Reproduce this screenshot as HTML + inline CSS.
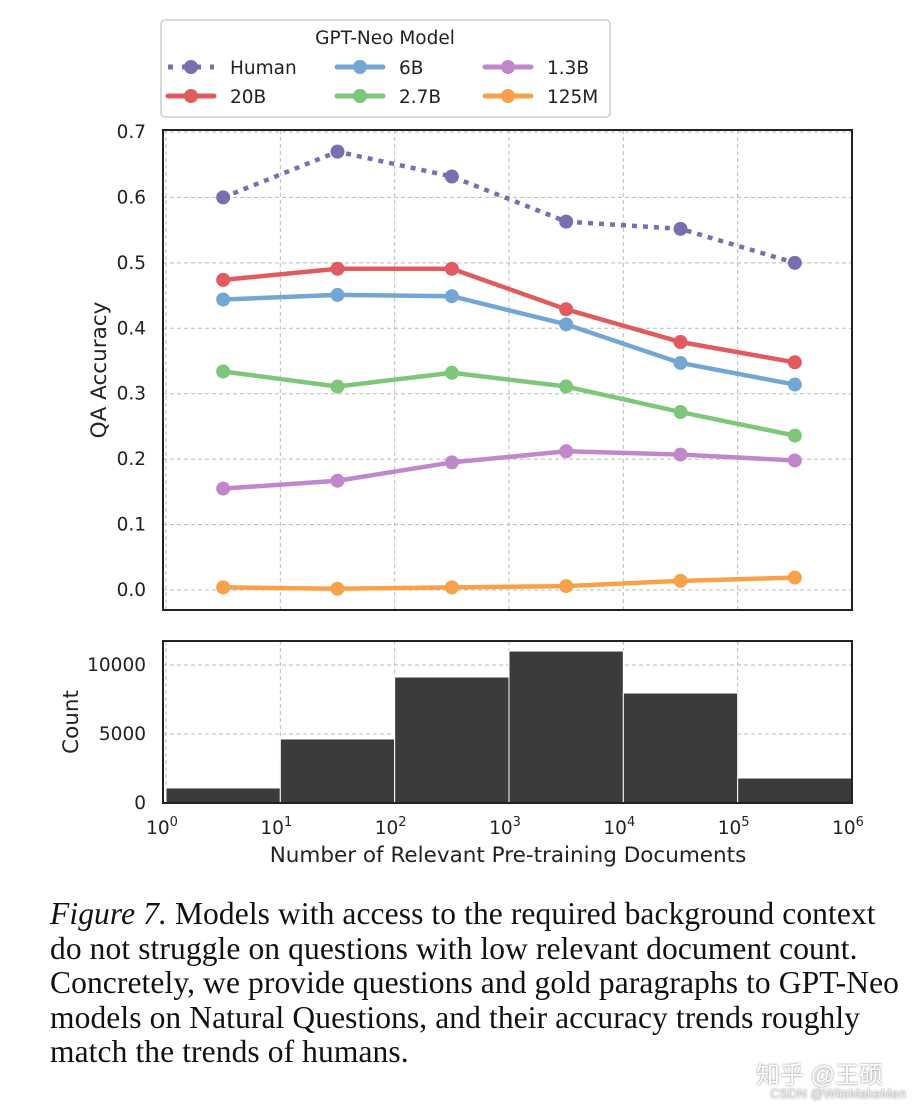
<!DOCTYPE html>
<html><head><meta charset="utf-8"><style>
body{margin:0;background:#fff;width:924px;height:1108px;overflow:hidden;position:relative}
svg{position:absolute;left:0;top:0}
.cap{position:absolute;left:50px;top:897px;width:870px;font-family:"Liberation Serif",serif;font-size:31.5px;line-height:34.5px;color:#111;white-space:nowrap;letter-spacing:0.1px}
.wm{position:absolute;font-family:"Liberation Sans","Noto Sans CJK SC",sans-serif;color:#fff;text-shadow:0 0 2px #777}
</style></head><body>
<svg id="chart" width="924" height="890" font-family="DejaVu Sans, sans-serif"></svg>
<div class="cap"><i>Figure 7.</i> Models with access to the required background context<br>do not struggle on questions with low relevant document count.<br>Concretely, we provide questions and gold paragraphs to GPT-Neo<br>models on Natural Questions, and their accuracy trends roughly<br>match the trends of humans.</div>
<div class="wm" style="left:756px;top:1055px;font-size:24px">知乎 @王硕</div>
<div class="wm" style="left:770px;top:1086px;font-size:13px;color:#eee">CSDN @WitsMakeMen</div>
<script>
const seriesNames=["Human","20B","6B","2.7B","1.3B","125M"];
const seriesColors=["#7b6eb0","#e05a5e","#72a7d4","#7ec77a","#c087cc","#f7a24a"];
const xLogPos=[0.5,1.5,2.5,3.5,4.5,5.5];
const human=[0.600,0.670,0.632,0.563,0.552,0.500];
const s20B=[0.474,0.491,0.491,0.429,0.379,0.348];
const s6B=[0.444,0.451,0.449,0.406,0.347,0.314];
const s27B=[0.334,0.311,0.332,0.311,0.272,0.236];
const s13B=[0.155,0.167,0.195,0.212,0.207,0.198];
const s125M=[0.004,0.002,0.004,0.006,0.014,0.019];
const binEdges=[0,1,2,3,4,5,6];
const counts=[1090,4640,9130,11010,7970,1810];
const yTicks=[0,0.1,0.2,0.3,0.4,0.5,0.6,0.7];
const cTicks=[0,5000,10000];
const xTicks=[0,1,2,3,4,5,6];
const NS="http://www.w3.org/2000/svg";
const svg=document.getElementById('chart');
function mk(t,a,p){const e=document.createElementNS(NS,t);for(const k in a)e.setAttribute(k,a[k]);(p||svg).appendChild(e);return e;}
const L=163,R=852;
const X=v=>166+v*(852-166)/6;
const Y=v=>590-v*(590-132)/0.7;
const C=v=>803-v*(803-665)/10000;
for(const t of xTicks){const g=mk('line',{x1:X(t),x2:X(t),y1:130,y2:610,stroke:'#bbb','stroke-dasharray':'4,3'});}
for(const t of yTicks){const g=mk('line',{x1:L,x2:R,y1:Y(t),y2:Y(t),stroke:'#bbb','stroke-dasharray':'4,3'});
const tx=mk('text',{x:146,y:Y(t)+6,'text-anchor':'end','font-size':18.5,fill:'#222'});tx.textContent=t.toFixed(1);}
const all=[human,s20B,s6B,s27B,s13B,s125M];
all.forEach((s,i)=>{const pts=s.map((v,j)=>X(xLogPos[j])+','+Y(v)).join(' ');
const pl=mk('polyline',{points:pts,fill:'none',stroke:seriesColors[i],'stroke-width':4.5,'stroke-dasharray':i==0?'5,6':'none','stroke-linejoin':'round'});

s.forEach((v,j)=>{const c=mk('circle',{cx:X(xLogPos[j]),cy:Y(v),r:7,fill:seriesColors[i]});});});
let f=mk('rect',{x:L,y:130,width:R-L,height:480,fill:'none',stroke:'#222','stroke-width':2});
let yt=mk('text',{x:106,y:370,'text-anchor':'middle','font-size':21.5,fill:'#222',transform:'rotate(-90 106 370)'});yt.textContent='QA Accuracy';
for(const t of xTicks){const g=mk('line',{x1:X(t),x2:X(t),y1:641,y2:803,stroke:'#bbb','stroke-dasharray':'4,3'});
const tx=mk('text',{x:X(t)-4,y:834,'text-anchor':'middle','font-size':18.5,fill:'#222'});tx.textContent='10';const ts=mk('tspan',{dy:-8,'font-size':13},tx);ts.textContent=t;}
for(const t of cTicks){const g=mk('line',{x1:L,x2:R,y1:C(t),y2:C(t),stroke:'#bbb','stroke-dasharray':'4,3'});
const tx=mk('text',{x:146,y:C(t)+6,'text-anchor':'end','font-size':18.5,fill:'#222'});tx.textContent=t;}
counts.forEach((c,i)=>{const b=mk('rect',{x:X(binEdges[i]),y:C(c),width:X(binEdges[i+1])-X(binEdges[i]),height:803-C(c),fill:'#3b3b3b',stroke:'#fff','stroke-width':1});});
f=mk('rect',{x:L,y:641,width:R-L,height:162,fill:'none',stroke:'#222','stroke-width':2});
yt=mk('text',{x:78,y:722,'text-anchor':'middle','font-size':21.5,fill:'#222',transform:'rotate(-90 78 722)'});yt.textContent='Count';
const xt=mk('text',{x:508,y:862,'text-anchor':'middle','font-size':21.5,fill:'#222'});xt.textContent='Number of Relevant Pre-training Documents';
const lg=mk('g',{});
mk('rect',{x:161,y:20,width:449,height:97,rx:4,fill:'#fff',stroke:'#ccc','stroke-width':1.5},lg);
const lt=mk('text',{x:385,y:44,'text-anchor':'middle','font-size':18.5,fill:'#222'},lg);lt.textContent='GPT-Neo Model';
const lx=[168,337,485],ly=[67,96];
const order=[0,2,4,1,3,5];
order.forEach((si,k)=>{const col=k%3,row=Math.floor(k/3);const x0=lx[col],y0=ly[row];
const e=mk('g',{},lg);
mk('line',{x1:x0,x2:x0+46,y1:y0,y2:y0,stroke:seriesColors[si],'stroke-width':5,'stroke-dasharray':si==0?'5,9':'none','stroke-linecap':si==0?'butt':'round'},e);
mk('circle',{cx:x0+23,cy:y0,r:7,fill:seriesColors[si]},e);
const t=mk('text',{x:x0+62,y:y0+7,'font-size':18.5,fill:'#222'},e);t.textContent=seriesNames[si];});
</script>
</body></html>
